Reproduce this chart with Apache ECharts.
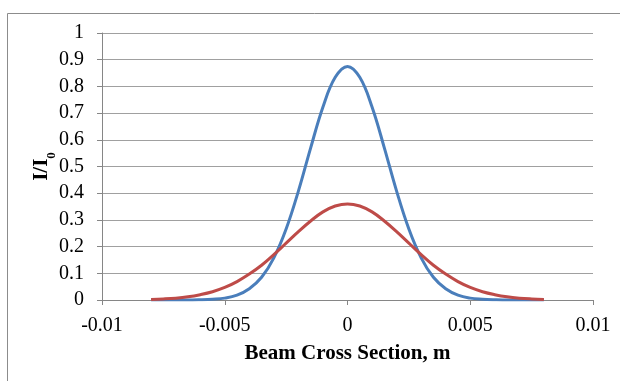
<!DOCTYPE html>
<html>
<head>
<meta charset="utf-8">
<script src="https://cdn.jsdelivr.net/npm/echarts@6/dist/echarts.min.js"></script>
<style>
html,body{margin:0;padding:0;background:#fff;}
#chart{width:620px;height:381px;}
</style>
</head>
<body>
<div id="chart"></div>
<script>
// Beam cross-section positions (m)
const xPos = [-0.008,-0.0075,-0.007,-0.0065,-0.006,-0.0055,-0.005,-0.0045,-0.004,-0.0035,-0.003,-0.0025,-0.002,-0.0015,-0.001,-0.0005,
  0,0.0005,0.001,0.0015,0.002,0.0025,0.003,0.0035,0.004,0.0045,0.005,0.0055,0.006,0.0065,0.007,0.0075,0.008];
// Narrow beam I/I0 (blue)
const blueVals = [0,0,0,0,0.001,0.003,0.007,0.018,0.042,0.085,0.158,0.266,0.408,0.570,0.723,0.834,
  0.875,0.834,0.723,0.570,0.408,0.266,0.158,0.085,0.042,0.018,0.007,0.003,0.001,0,0,0,0];
// Wide beam I/I0 (red)
const redVals = [0.002,0.004,0.007,0.012,0.020,0.031,0.047,0.069,0.097,0.130,0.170,0.213,0.256,0.296,0.330,0.352,
  0.360,0.352,0.330,0.296,0.256,0.213,0.170,0.130,0.097,0.069,0.047,0.031,0.020,0.012,0.007,0.004,0.002];
const xTickLabels = ['-0.01','-0.005','0','0.005','0.01'];
const yTickLabels = ['0','0.1','0.2','0.3','0.4','0.5','0.6','0.7','0.8','0.9','1'];

const chart = echarts.init(document.getElementById('chart'), null, {renderer:'canvas'});
const font = 'Liberation Serif';
const pairs = vals => xPos.map((x,i)=>[x, vals[i]]);

chart.setOption({
  animation:false,
  backgroundColor:'#ffffff',
  graphic:[{
    type:'rect', shape:{x:7.5,y:13.5,width:700,height:500},
    style:{fill:'none',stroke:'#8c8c8c',lineWidth:1}, silent:true
  }],
  grid:{left:102,right:27,top:33,bottom:81,containLabel:false},
  xAxis:{
    type:'value', min:-0.01, max:0.01, interval:0.005,
    name:'Beam Cross Section, m', nameLocation:'middle', nameGap:43,
    nameTextStyle:{fontFamily:font,fontSize:21,fontWeight:'bold',color:'#000'},
    axisLine:{show:true,onZero:false,lineStyle:{color:'#868686',width:1}},
    axisTick:{show:true,inside:false,length:5,lineStyle:{color:'#868686'}},
    splitLine:{show:false},
    axisLabel:{fontFamily:font,fontSize:20,color:'#000',margin:16,
      formatter:(v)=>{const i=Math.round((v+0.01)/0.005);return xTickLabels[i]!==undefined?xTickLabels[i]:'';}}
  },
  yAxis:{
    type:'value', min:0, max:1, interval:0.1,
    name:'{a|I/I}{b|0}', nameLocation:'middle', nameGap:50, nameRotate:90, nameMoveOverlap:false,
    nameTextStyle:{fontFamily:font,fontWeight:'bold',color:'#000',
      rich:{a:{fontFamily:font,fontSize:21,fontWeight:'bold',color:'#000',lineHeight:24,verticalAlign:'bottom'},
            b:{fontFamily:font,fontSize:13,fontWeight:'bold',color:'#000',lineHeight:24,verticalAlign:'bottom',padding:[0,0,-6,0]}}},
    axisLine:{show:true,onZero:false,lineStyle:{color:'#868686',width:1}},
    axisTick:{show:true,inside:false,length:5,lineStyle:{color:'#868686'}},
    splitLine:{show:true,lineStyle:{color:'#a0a0a0',width:1}},
    axisLabel:{fontFamily:font,fontSize:20,color:'#000',margin:18,
      formatter:(v)=>{const i=Math.round(v/0.1);return yTickLabels[i]!==undefined?yTickLabels[i]:'';}}
  },
  series:[
    {type:'line',name:'blue',data:pairs(blueVals),smooth:0.4,showSymbol:false,
      lineStyle:{color:'#4a7ebb',width:3},itemStyle:{color:'#4a7ebb'},z:3},
    {type:'line',name:'red',data:pairs(redVals),smooth:0.4,showSymbol:false,
      lineStyle:{color:'#be4b48',width:3},itemStyle:{color:'#be4b48'},z:4}
  ]
});
</script>
</body>
</html>
